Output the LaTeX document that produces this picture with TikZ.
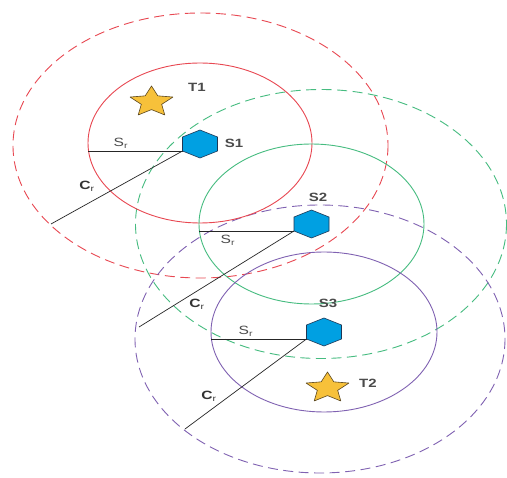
\documentclass[tikz,border=0pt]{standalone}
\usepackage{fontspec}
\setmainfont{Liberation Sans}
\usetikzlibrary{calc}
\definecolor{redc}{RGB}{232,72,82}
\definecolor{greenc}{RGB}{70,188,128}
\definecolor{purplec}{RGB}{128,98,178}
\definecolor{hexfill}{RGB}{0,160,226}
\definecolor{hexline}{RGB}{30,55,85}
\definecolor{starfill}{RGB}{247,193,58}
\definecolor{starline}{RGB}{90,70,30}
\definecolor{txt}{RGB}{75,75,75}
\tikzset{
  dashring/.style={line width=0.9pt, dash pattern=on 10pt off 5.5pt},
  solidring/.style={line width=0.9pt},
  radius line/.style={line width=0.7pt, black!85},
  hexstyle/.style={fill=hexfill, draw=hexline, line width=0.6pt, line join=round},
  starstyle/.style={fill=starfill, draw=starline, line width=0.6pt, line join=round},
  blbl/.style={text=txt, font=\fontsize{12}{12}\selectfont\bfseries, inner sep=0pt},
  rlbl/.style={text=txt, font=\fontsize{12}{12}\selectfont, inner sep=0pt},
  clbl/.style={text=black!80, font=\fontsize{12}{12}\selectfont\bfseries, inner sep=0pt}
}
\newcommand\mylab[2]{\scalebox{1.3}[1]{#1$_{\mathrm{#2}}$}}
\begin{document}
\begin{tikzpicture}[x=1pt,y=-1pt]
\useasboundingbox (0,0) rectangle (507,478);
\fill[white] (0,0) rectangle (507,478);
% coverage rings
\draw[dashring, redc] (200.5,145.5) ellipse [x radius=187.5, y radius=132.5];
\draw[dashring, greenc] (321,224) ellipse [x radius=185.5, y radius=134.5];
\draw[dashring, purplec] (320,339) ellipse [x radius=185, y radius=134];
\draw[solidring, redc] (200,143) ellipse [x radius=112, y radius=80];
\draw[solidring, greenc] (311.5,224) ellipse [x radius=112.5, y radius=80];
\draw[solidring, purplec] (324,332) ellipse [x radius=113, y radius=80];
% sensor anchor points
\foreach \n/\px/\py in {S1/200/144, S2/311.5/224, S3/324/332}{
  \begin{scope}[shift={(\px,\py)}]
    \coordinate (\n) at (0,0);
    \coordinate (\n w) at (-17.5,7);
  \end{scope}
}
% radius end points
\coordinate (S1sr) at (88,151);
\coordinate (S2sr) at (199,231);
\coordinate (S3sr) at (211,339);
\coordinate (S1cr) at (51,224);
\coordinate (S2cr) at (139,327);
\coordinate (S3cr) at (185,429);
\draw[radius line] (S1w) -- (S1sr);
\draw[radius line] (S2w) -- (S2sr);
\draw[radius line] (S3w) -- (S3sr);
\draw[radius line] (S1w) -- (S1cr);
\draw[radius line] (S2w) -- (S2cr);
\draw[radius line] (S3w) -- (S3cr);
% sensors
\foreach \n/\px/\py in {S1/200/144, S2/311.5/224, S3/324/332}{
  \begin{scope}[shift={(\px,\py)}]
    \draw[hexstyle] (-17.5,7) -- (0,14) -- (17.5,7) -- (17.5,-7) -- (0,-14) -- (-17.5,-7) -- cycle;
  \end{scope}
}
% targets
\foreach \n/\px/\py in {T1/151.5/102, T2/327.5/388}{
  \begin{scope}[shift={(\px,\py)}, xscale=1.41]
    \coordinate (\n) at (0,0);
    \draw[starstyle] (270:16) -- (306:7.6) -- (342:16) -- (18:7.6) -- (54:16) -- (90:7.6) -- (126:16) -- (162:7.6) -- (198:16) -- (234:7.6) -- cycle;
  \end{scope}
}
% labels
\node[blbl] (lT1) at (197,87) {\scalebox{1.25}[1]{T1}};
\node[blbl] (lT2) at (368,383) {\scalebox{1.25}[1]{T2}};
\node[blbl] (lS1) at (234,143) {\scalebox{1.25}[1]{S1}};
\node[blbl] (lS2) at (318,197) {\scalebox{1.25}[1]{S2}};
\node[blbl] (lS3) at (328,303) {\scalebox{1.25}[1]{S3}};
\node[rlbl] (r1) at (121,143) {\mylab{S}{r}};
\node[rlbl] (r2) at (228,240) {\mylab{S}{r}};
\node[rlbl] (r3) at (246,331) {\mylab{S}{r}};
\node[clbl] (c1) at (87,186) {\mylab{C}{r}};
\node[clbl] (c2) at (197,304) {\mylab{C}{r}};
\node[clbl] (c3) at (209,396) {\mylab{C}{r}};
\end{tikzpicture}
\end{document}
